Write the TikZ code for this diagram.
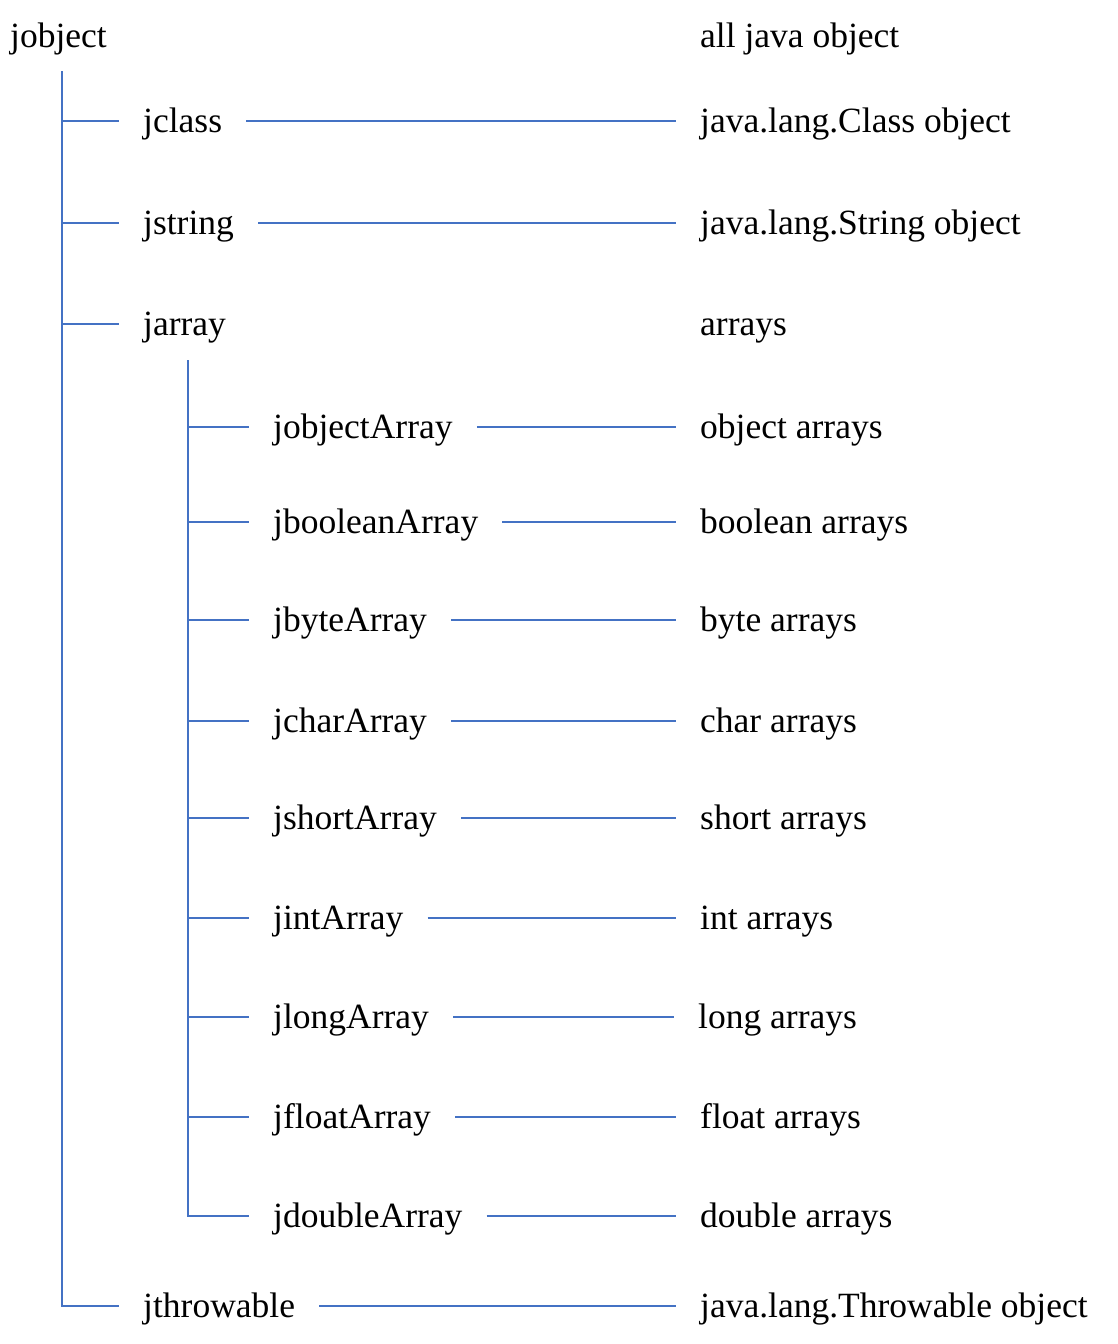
\documentclass[tikz,border=0pt]{standalone}
\usepackage{fontspec}
\setmainfont{Liberation Serif}
\usepackage{tikz}
\usepackage{xcolor}
\usetikzlibrary{positioning}

\definecolor{treeblue}{HTML}{4472C4}

\begin{document}
\begin{tikzpicture}[x=1pt, y=-1pt,
        typ/.style={anchor=west, inner xsep=24pt, inner ysep=0pt, text height=22pt, text depth=0pt, font=\fontsize{35.5}{40}\selectfont},
        link/.style={treeblue, line width=1.6pt}]
        \useasboundingbox (0, 0) rectangle (1118, 1344);

        % left column: the types
        \node[typ] (jobject) at (-14, 36) {jobject};
        \node[typ] (jclass) at (119, 121) {jclass};
        \node[typ] (jstring) at (119, 223) {jstring};
        \node[typ] (jarray) at (119, 324) {jarray};
        \node[typ] (jobjectArray) at (249, 427) {jobjectArray};
        \node[typ] (jbooleanArray) at (249, 522) {jbooleanArray};
        \node[typ] (jbyteArray) at (249, 620) {jbyteArray};
        \node[typ] (jcharArray) at (249, 721) {jcharArray};
        \node[typ] (jshortArray) at (249, 818) {jshortArray};
        \node[typ] (jintArray) at (249, 918) {jintArray};
        \node[typ] (jlongArray) at (249, 1017) {jlongArray};
        \node[typ] (jfloatArray) at (249, 1117) {jfloatArray};
        \node[typ] (jdoubleArray) at (249, 1216) {jdoubleArray};
        \node[typ] (jthrowable) at (119, 1306) {jthrowable};

        % right column: what they stand for
        \node[typ] (objectdesc) at (676, 36) {all java object};
        \node[typ] (classdesc) at (676, 121) {java.lang.Class object};
        \node[typ] (stringdesc) at (676, 223) {java.lang.String object};
        \node[typ] (arraydesc) at (676, 324) {arrays};
        \node[typ] (objarrdesc) at (676, 427) {object arrays};
        \node[typ] (boolarrdesc) at (676, 522) {boolean arrays};
        \node[typ] (bytearrdesc) at (676, 620) {byte arrays};
        \node[typ] (chararrdesc) at (676, 721) {char arrays};
        \node[typ] (shortarrdesc) at (676, 818) {short arrays};
        \node[typ] (intarrdesc) at (676, 918) {int arrays};
        \node[typ] (longarrdesc) at (674, 1017) {long arrays};
        \node[typ] (floatarrdesc) at (676, 1117) {float arrays};
        \node[typ] (doublearrdesc) at (676, 1216) {double arrays};
        \node[typ] (throwdesc) at (676, 1306) {java.lang.Throwable object};

        % tree
        \coordinate (trunk) at (62, 71);
        \coordinate (subtrunk) at (188, 360);
        \draw[link] (trunk) |- (jthrowable.west);
        \draw[link] (trunk |- jclass.west) -- (jclass.west)
            (trunk |- jstring.west) -- (jstring.west)
            (trunk |- jarray.west) -- (jarray.west);
        \draw[link] (subtrunk) |- (jdoubleArray.west);
        \draw[link] (subtrunk |- jobjectArray.west) -- (jobjectArray.west)
            (subtrunk |- jbooleanArray.west) -- (jbooleanArray.west)
            (subtrunk |- jbyteArray.west) -- (jbyteArray.west)
            (subtrunk |- jcharArray.west) -- (jcharArray.west)
            (subtrunk |- jshortArray.west) -- (jshortArray.west)
            (subtrunk |- jintArray.west) -- (jintArray.west)
            (subtrunk |- jlongArray.west) -- (jlongArray.west)
            (subtrunk |- jfloatArray.west) -- (jfloatArray.west);

        % type to meaning
        \draw[link] (jclass.east) -- (classdesc.west)
            (jstring.east) -- (stringdesc.west)
            (jobjectArray.east) -- (objarrdesc.west)
            (jbooleanArray.east) -- (boolarrdesc.west)
            (jbyteArray.east) -- (bytearrdesc.west)
            (jcharArray.east) -- (chararrdesc.west)
            (jshortArray.east) -- (shortarrdesc.west)
            (jintArray.east) -- (intarrdesc.west)
            (jlongArray.east) -- (longarrdesc.west)
            (jfloatArray.east) -- (floatarrdesc.west)
            (jdoubleArray.east) -- (doublearrdesc.west)
            (jthrowable.east) -- (throwdesc.west);
    \end{tikzpicture}
\end{document}
